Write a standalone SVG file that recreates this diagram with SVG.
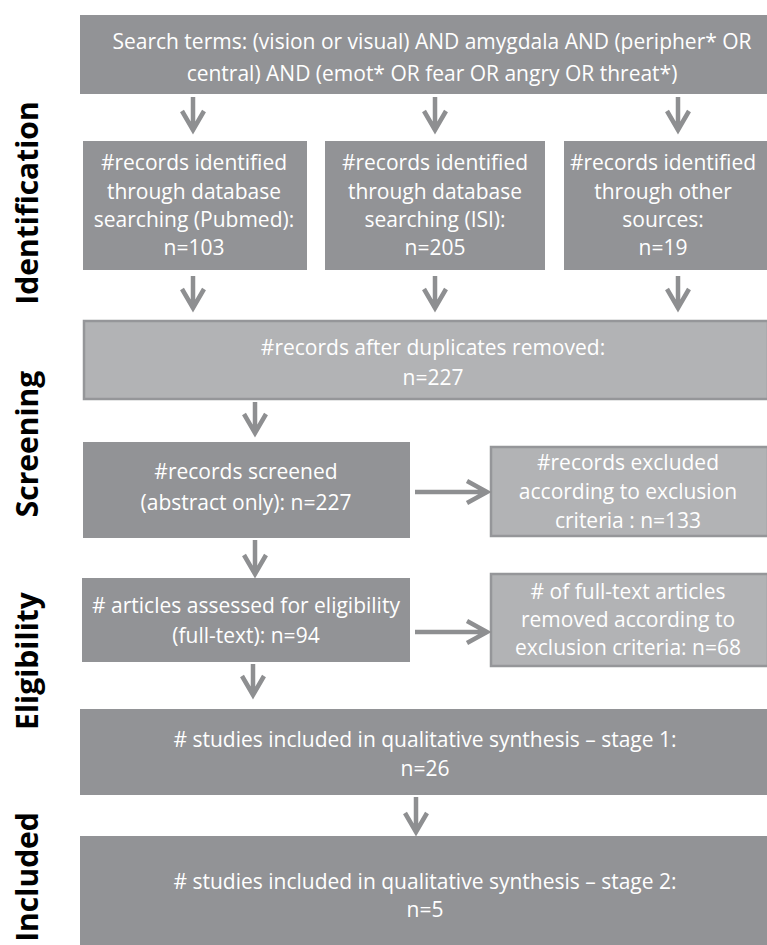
<svg xmlns="http://www.w3.org/2000/svg" width="767" height="945" viewBox="0 0 767 945">
<style>
.dark{fill:#929396;}
.light{fill:#b2b3b5;stroke:#959699;stroke-width:2.5;}
.t{font-family:"Open Sans","Liberation Sans",sans-serif;font-size:21px;fill:#ffffff;text-anchor:middle;}
.lab{font-family:"Open Sans","Liberation Sans",sans-serif;font-size:30px;font-weight:bold;fill:#000000;text-anchor:middle;}
.ar{fill:none;stroke:#8e8f91;stroke-width:4.5;stroke-linejoin:miter;stroke-linecap:butt;}
</style>
<rect width="767" height="945" fill="#ffffff"/>
<g id="labels">
<text class="lab" transform="translate(38,203) rotate(-90)">Identification</text>
<text class="lab" transform="translate(38,444) rotate(-90)">Screening</text>
<text class="lab" transform="translate(38,661) rotate(-90)">Eligibility</text>
<text class="lab" transform="translate(38,877) rotate(-90)">Included</text>
</g>
<g id="search">
<rect class="dark" x="80" y="15" width="687" height="79"/>
<text class="t" x="432" y="49">Search terms: (vision or visual) AND amygdala AND (peripher* OR</text>
<text class="t" x="432" y="81">central) AND (emot* OR fear OR angry OR threat*)</text>
</g>
<g id="pubmed">
<rect class="dark" x="83" y="141" width="224" height="129"/>
<text class="t" x="194" y="170">#records identified</text>
<text class="t" x="194" y="199">through database</text>
<text class="t" x="194" y="227">searching (Pubmed):</text>
<text class="t" x="194" y="255">n=103</text>
</g>
<g id="isi">
<rect class="dark" x="325" y="141" width="220" height="129"/>
<text class="t" x="435" y="170">#records identified</text>
<text class="t" x="435" y="199">through database</text>
<text class="t" x="435" y="227">searching (ISI):</text>
<text class="t" x="435" y="255">n=205</text>
</g>
<g id="other">
<rect class="dark" x="564" y="141" width="203" height="129"/>
<text class="t" x="663" y="170">#records identified</text>
<text class="t" x="663" y="199">through other</text>
<text class="t" x="663" y="227">sources:</text>
<text class="t" x="663" y="255">n=19</text>
</g>
<g id="duplicates">
<rect class="light" x="84" y="321" width="684" height="78"/>
<text class="t" x="433" y="355">#records after duplicates removed:</text>
<text class="t" x="433" y="385">n=227</text>
</g>
<g id="screened">
<rect class="dark" x="83" y="442" width="327" height="96"/>
<text class="t" x="246" y="479">#records screened</text>
<text class="t" x="246" y="510">(abstract only): n=227</text>
</g>
<g id="excluded">
<rect class="light" x="491" y="447" width="277" height="89"/>
<text class="t" x="628" y="470">#records excluded</text>
<text class="t" x="628" y="499">according to exclusion</text>
<text class="t" x="628" y="528">criteria : n=133</text>
</g>
<g id="assessed">
<rect class="dark" x="82" y="578" width="328" height="84"/>
<text class="t" x="246" y="613"># articles assessed for eligibility</text>
<text class="t" x="246" y="643">(full-text): n=94</text>
</g>
<g id="removed">
<rect class="light" x="491" y="574" width="277" height="92"/>
<text class="t" x="628" y="599"># of full-text articles</text>
<text class="t" x="628" y="627">removed according to</text>
<text class="t" x="628" y="655">exclusion criteria: n=68</text>
</g>
<g id="stage1">
<rect class="dark" x="80" y="709" width="687" height="86"/>
<text class="t" x="425" y="747"># studies included in qualitative synthesis – stage 1:</text>
<text class="t" x="425" y="776">n=26</text>
</g>
<g id="stage2">
<rect class="dark" x="80" y="836" width="687" height="109"/>
<text class="t" x="425" y="889"># studies included in qualitative synthesis – stage 2:</text>
<text class="t" x="425" y="917">n=5</text>
</g>
<g id="connectors">
<path class="ar" d="M193,97 V129 M182,111 L193,130 L204,111"/>
<path class="ar" d="M435,97 V129 M424,111 L435,130 L446,111"/>
<path class="ar" d="M678,97 V129 M667,111 L678,130 L689,111"/>
<path class="ar" d="M193,276 V307 M182,289 L193,308 L204,289"/>
<path class="ar" d="M435,276 V307 M424,289 L435,308 L446,289"/>
<path class="ar" d="M678,276 V307 M667,289 L678,308 L689,289"/>
<path class="ar" d="M255,402 V432 M244,414 L255,433 L266,414"/>
<path class="ar" d="M255,540 V573 M244,555 L255,574 L266,555"/>
<path class="ar" d="M253,664 V694 M242,676 L253,695 L264,676"/>
<path class="ar" d="M416,797 V831 M405,813 L416,832 L427,813"/>
<path class="ar" d="M415,492 H486 M467,481 L487,492 L467,503"/>
<path class="ar" d="M415,632 H486 M467,621 L487,632 L467,643"/>
</g>
</svg>
